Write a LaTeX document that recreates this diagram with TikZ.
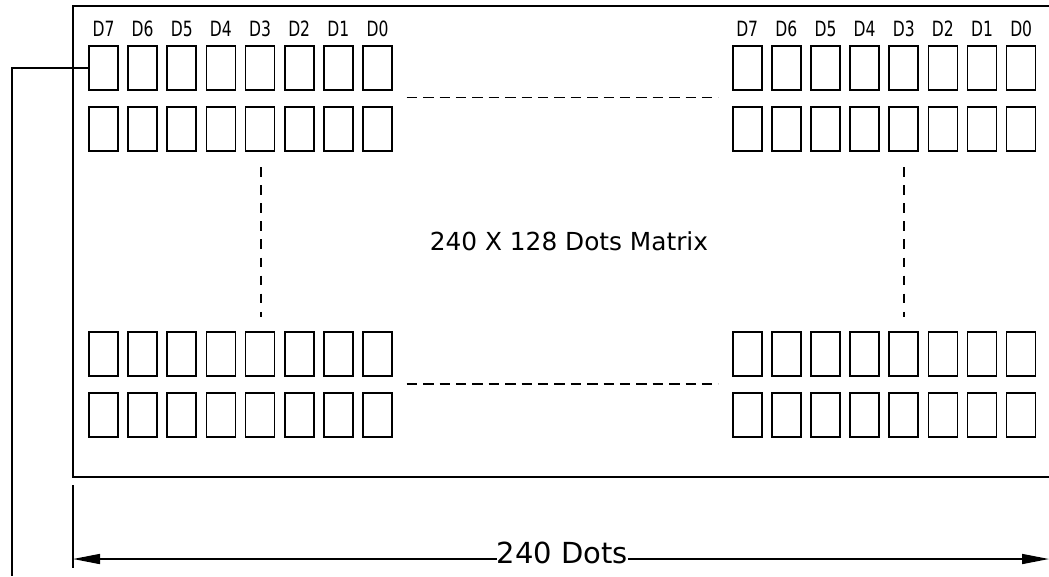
\documentclass[tikz,border=0pt]{standalone}
\usepackage{fontspec}
\setmainfont{DejaVu Sans}
\usetikzlibrary{arrows.meta}
\begin{document}
\begin{tikzpicture}[x=1pt,y=-1pt,
  cell/.style={draw,line width=1.6pt,minimum width=29pt,minimum height=44pt,inner sep=0pt},
  bitlbl/.style={inner sep=0pt,font=\fontsize{21}{21}\selectfont},
  ln/.style={line width=1.6pt},
  dsh/.style={line width=1.8pt,dash pattern=on 10.5pt off 5.9pt},
  vdsh/.style={line width=1.8pt,dash pattern=on 9.5pt off 8.6pt},
  dimarrow/.style={line width=1.6pt,-{Triangle[length=27pt,width=10pt]}}]
\useasboundingbox (0,0) rectangle (1049,576);
% frame
\draw[ln] (1049,6) -- (73,6) -- (73,477) -- (1049,477);
% cells
\foreach \r/\yy in {1/68,2/129,3/354.2,4/415.2}{
  \foreach \i in {0,...,7}{
    \node[cell] (L\r-\i) at ({103.5+\i*39.14},\yy) {};
    \node[cell] (R\r-\i) at ({747.2+\i*39.14},\yy) {};
  }
}
% bit labels
\foreach \i/\t in {0/D7,1/D6,2/D5,3/D4,4/D3,5/D2,6/D1,7/D0}{
  \node[bitlbl] (lt\i) at ({103.5+\i*39.14},29) {\scalebox{0.74}[1]{\t}};
  \node[bitlbl] (rt\i) at ({747.2+\i*39.14},29) {\scalebox{0.74}[1]{\t}};
}
% dashed fillers
\coordinate (h1a) at (406.7,97.4); \coordinate (h1b) at (718.3,97.4);
\coordinate (h2a) at (406.7,384.2); \coordinate (h2b) at (718.3,384.2);
\coordinate (v1a) at (260.7,167); \coordinate (v1b) at (260.7,317);
\coordinate (v2a) at (904.3,167); \coordinate (v2b) at (904.3,317);
\draw[dsh] (h1a) -- (h1b);
\draw[dsh] (h2a) -- (h2b);
\draw[vdsh] (v1a) -- (v1b);
\draw[vdsh] (v2a) -- (v2b);
% centre text
\node[inner sep=0pt,anchor=base,font=\fontsize{24.8}{24.8}\selectfont] (title) at (569,250) {240 X 128 Dots Matrix};
% connector from first cell
\coordinate (cA) at (12,68);
\coordinate (cB) at (12,576);
\draw[ln] (L1-0.west) -- (cA) -- (cB);
% dimension
\coordinate (e1) at (73,485);
\coordinate (e2) at (73,567.5);
\coordinate (aL) at (73,559);
\coordinate (aR) at (1049,559);
\draw[ln] (e1) -- (e2);
\node[inner sep=0pt,anchor=base,font=\fontsize{29}{29}\selectfont] (dots) at (562.5,563.5) {240 Dots};
\draw[dimarrow] (dots.west |- aL) -- (aL);
\draw[dimarrow] (dots.east |- aR) -- (aR);
\end{tikzpicture}
\end{document}
